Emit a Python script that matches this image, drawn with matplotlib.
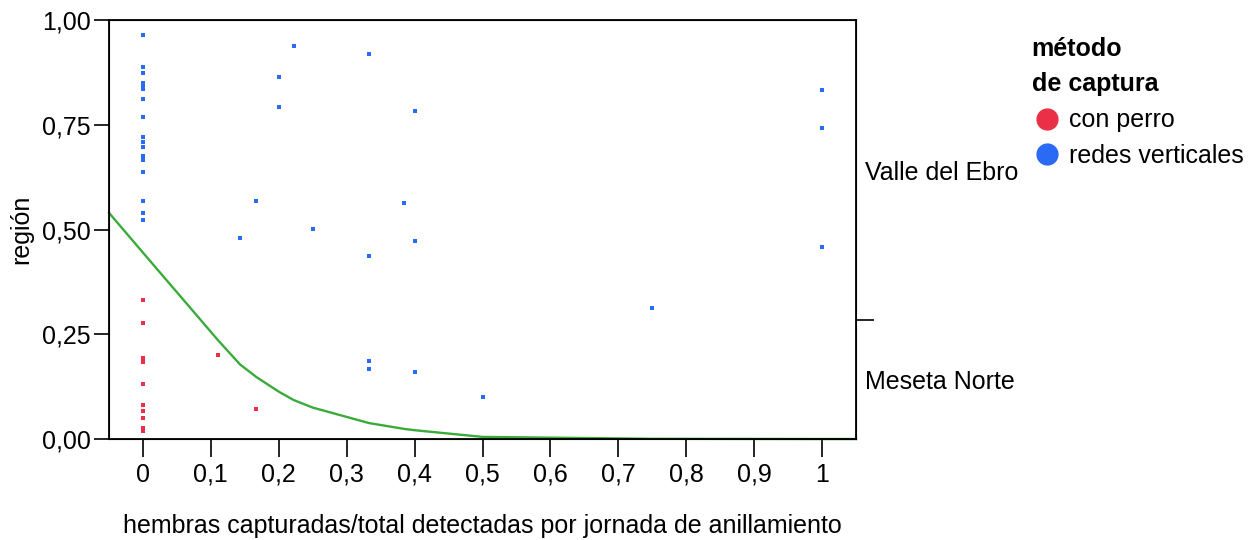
import matplotlib
matplotlib.use("Agg")
import matplotlib.pyplot as plt
from matplotlib.lines import Line2D

plt.rcParams['font.family'] = ['Liberation Sans', 'DejaVu Sans']

# Data
perro_x = [0, 0, 0, 0, 0, 0, 0, 0, 0, 0, 0.111, 0.167]
perro_y = [0.332, 0.277, 0.193, 0.185, 0.131, 0.081, 0.066, 0.051, 0.027, 0.020, 0.201, 0.071]

redes_x = [0, 0, 0, 0, 0, 0, 0, 0, 0, 0, 0, 0, 0, 0, 0, 0, 0,
           0.2, 0.2, 0.167, 0.222, 0.333, 0.4, 0.385, 0.25, 0.4, 0.333,
           0.333, 0.333, 0.4, 0.5, 0.143, 1.0, 1.0, 1.0, 0.75]
redes_y = [0.965, 0.889, 0.875, 0.849, 0.843, 0.836, 0.813, 0.768, 0.722, 0.710,
           0.698, 0.676, 0.665, 0.638, 0.568, 0.539, 0.523,
           0.865, 0.793, 0.568, 0.939, 0.919, 0.784, 0.563, 0.502, 0.473, 0.437,
           0.186, 0.166, 0.161, 0.101, 0.480, 0.833, 0.743, 0.458, 0.312]

fit_x = [-0.05, 0, 0.111, 0.143, 0.167, 0.2, 0.222, 0.25, 0.333, 0.385, 0.4, 0.5, 0.75, 1.0, 1.05]
fit_y = [0.54, 0.445, 0.235, 0.178, 0.148, 0.113, 0.093, 0.075, 0.038, 0.024, 0.021, 0.005, 0.0005, 0.0, 0.0]

x_ticks = [0, 0.1, 0.2, 0.3, 0.4, 0.5, 0.6, 0.7, 0.8, 0.9, 1.0]
x_ticklabels = ['0', '0,1', '0,2', '0,3', '0,4', '0,5', '0,6', '0,7', '0,8', '0,9', '1']
y_ticks = [0, 0.25, 0.5, 0.75, 1.0]
y_ticklabels = ['0,00', '0,25', '0,50', '0,75', '1,00']
region_bounds = [0.284]
region_centers = [0.142, 0.642]
region_labels = ['Meseta Norte', 'Valle del Ebro']
legend_labels = ['con perro', 'redes verticales']

RED = '#ea3046'
BLUE = '#2a6af5'
GREEN = '#3aab3a'
FS = 18

fig = plt.figure(figsize=(12.59, 5.40), dpi=100)
ax = fig.add_axes([109/1259, 1-439/540, (856-109)/1259, (439-20.2)/540])

ax.plot(fit_x, fit_y, color=GREEN, lw=1.7, zorder=2, clip_on=False)
ax.scatter(perro_x, perro_y, marker='s', s=8, color=RED, linewidths=0, zorder=3)
ax.scatter(redes_x, redes_y, marker='s', s=8, color=BLUE, linewidths=0, zorder=3)

ax.set_xlim(-0.05, 1.05)
ax.set_ylim(0, 1)
ax.set_xticks(x_ticks)
ax.set_xticklabels(x_ticklabels)
ax.set_yticks(y_ticks)
ax.set_yticklabels(y_ticklabels)
ax.tick_params(axis='x', length=13, width=1.2, pad=4, labelsize=FS)
ax.tick_params(axis='y', length=11, width=1.2, pad=2, labelsize=FS)
for s in ax.spines.values():
    s.set_linewidth(1.3)

ax.set_xlabel('hembras capturadas/total detectadas por jornada de anillamiento', fontsize=FS, labelpad=20)
ax.set_ylabel('región', fontsize=FS, labelpad=6)

ax2 = ax.twinx()
ax2.set_ylim(0, 1)
ax2.set_yticks(region_bounds)
ax2.set_yticklabels([''])
ax2.set_yticks(region_centers, minor=True)
ax2.set_yticklabels(region_labels, minor=True)
ax2.tick_params(axis='y', which='major', length=13, width=1.2)
ax2.tick_params(axis='y', which='minor', length=0, pad=6.5, labelsize=FS)

handles = [Line2D([], [], marker='o', ls='', color=RED, markersize=15),
           Line2D([], [], marker='o', ls='', color=BLUE, markersize=15)]
leg = fig.legend(handles, legend_labels, title='método\nde captura',
                 loc='upper left', bbox_to_anchor=(1009/1259, 1-15/540),
                 frameon=False, fontsize=FS, handletextpad=0.3,
                 handlelength=1.2, labelspacing=0.45, alignment='left',
                 title_fontproperties={'weight': 'bold', 'size': FS})
leg.get_title().set_linespacing(1.55)
leg._legend_box.sep = 9

fig.savefig('out.png', dpi=100)
